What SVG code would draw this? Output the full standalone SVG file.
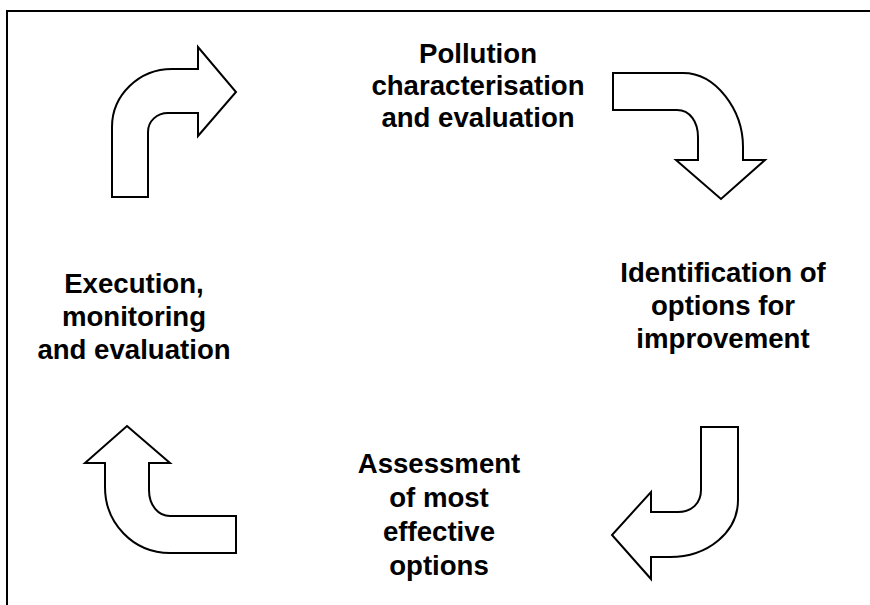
<svg xmlns="http://www.w3.org/2000/svg" width="870" height="605" viewBox="0 0 870 605">
<style>
.lbl{font-family:"Liberation Sans",Arial,sans-serif;font-weight:bold;font-size:27.6px;fill:#000;text-anchor:middle}
.arr{fill:#fff;stroke:#000;stroke-width:2;stroke-linejoin:miter}
.frame{fill:none;stroke:#000;stroke-width:2}
</style>
<rect width="870" height="605" fill="#fff"/>
<path class="frame" d="M7,605 V11 H870"/>
<g id="connectors">
<path class="arr" d="M112,197 V127 C112,95 139,69 172,69 H198 V47 L236,92 L198,136 V113 H168 C157,113 148,121 148,132 V197 Z"/>
<path class="arr" d="M613,73 H683 C716,73 743,110 743,147 V160 H765 L721,199 L676,160 H698 V137 C698,122 690,110 677,110 H613 Z"/>
<path class="arr" d="M701,427 H738 V500 C738,532 708,557 670,557 H651 V579 L612,535 L651,492 V512 H678 C692,512 701,503 701,490 Z"/>
<path class="arr" d="M127,426 L170,463 H149 V490 C149,505 158,516 170,516 H236 V553 H170 C133,553 105,523 105,487 V463 H85 Z"/>
</g>
<g id="pollution">
<text class="lbl" x="478" y="63">Pollution</text>
<text class="lbl" x="478" y="95">characterisation</text>
<text class="lbl" x="478" y="127">and evaluation</text>
</g>
<g id="identification">
<text class="lbl" x="723" y="282">Identification of</text>
<text class="lbl" x="723" y="315">options for</text>
<text class="lbl" x="723" y="348">improvement</text>
</g>
<g id="assessment">
<text class="lbl" x="439" y="473">Assessment</text>
<text class="lbl" x="439" y="507">of most</text>
<text class="lbl" x="439" y="541">effective</text>
<text class="lbl" x="439" y="575">options</text>
</g>
<g id="execution">
<text class="lbl" x="134" y="293">Execution,</text>
<text class="lbl" x="134" y="326">monitoring</text>
<text class="lbl" x="134" y="359">and evaluation</text>
</g>
</svg>
